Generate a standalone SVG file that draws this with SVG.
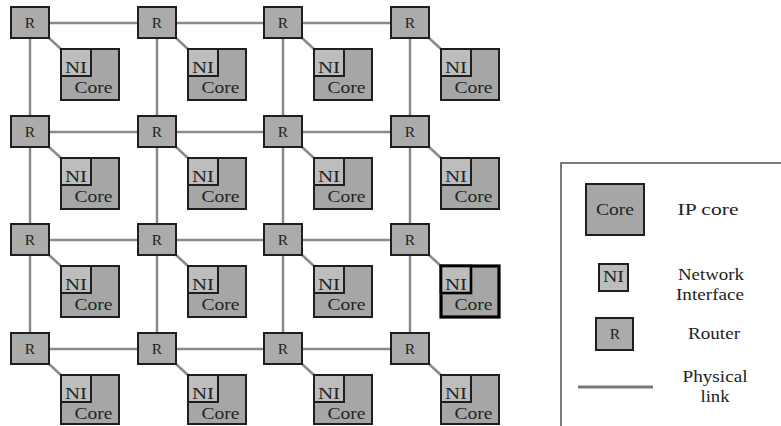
<svg xmlns="http://www.w3.org/2000/svg" width="781" height="426" viewBox="0 0 781 426">
<style>
.bg{fill:#ffffff}
.link{stroke:#8a8a8a;stroke-width:2.5;fill:none}
.r{fill:#ababab;stroke:#1e1e1e;stroke-width:2}
.core{fill:#a6a6a6;stroke:#1e1e1e;stroke-width:2}
.corehl{fill:#a6a6a6;stroke:#000;stroke-width:3.2}
.ni{fill:#bdbdbd;stroke:#1e1e1e;stroke-width:2}
text{font-family:"Liberation Serif","Times New Roman",serif;fill:#222;text-anchor:middle}
.tr{font-size:15.5px}
.tni{font-size:16px}
.tc{font-size:17.5px}
.tl{font-size:17px}
</style>
<rect class="bg" x="0" y="0" width="781" height="426"/>
<g id="connectors">
<line class="link" x1="30" y1="23" x2="410" y2="23"/>
<line class="link" x1="30" y1="132" x2="410" y2="132"/>
<line class="link" x1="30" y1="240" x2="410" y2="240"/>
<line class="link" x1="30" y1="349" x2="410" y2="349"/>
<line class="link" x1="30" y1="23" x2="30" y2="349"/>
<line class="link" x1="157" y1="23" x2="157" y2="349"/>
<line class="link" x1="283" y1="23" x2="283" y2="349"/>
<line class="link" x1="410" y1="23" x2="410" y2="349"/>
<line class="link" x1="49" y1="38" x2="62" y2="50"/><line class="link" x1="176" y1="38" x2="189" y2="50"/><line class="link" x1="302" y1="38" x2="315" y2="50"/><line class="link" x1="429" y1="38" x2="442" y2="50"/>
<line class="link" x1="49" y1="147" x2="62" y2="159"/><line class="link" x1="176" y1="147" x2="189" y2="159"/><line class="link" x1="302" y1="147" x2="315" y2="159"/><line class="link" x1="429" y1="147" x2="442" y2="159"/>
<line class="link" x1="49" y1="255" x2="62" y2="267"/><line class="link" x1="176" y1="255" x2="189" y2="267"/><line class="link" x1="302" y1="255" x2="315" y2="267"/><line class="link" x1="429" y1="255" x2="442" y2="267"/>
<line class="link" x1="49" y1="364" x2="62" y2="376"/><line class="link" x1="176" y1="364" x2="189" y2="376"/><line class="link" x1="302" y1="364" x2="315" y2="376"/><line class="link" x1="429" y1="364" x2="442" y2="376"/>
</g>
<!-- Row 1 -->
<g id="r11"><rect class="r" x="11" y="7" width="38" height="31"/><text class="tr" x="30" y="28">R</text></g>
<g id="r12"><rect class="r" x="138" y="7" width="38" height="31"/><text class="tr" x="157" y="28">R</text></g>
<g id="r13"><rect class="r" x="264" y="7" width="38" height="31"/><text class="tr" x="283" y="28">R</text></g>
<g id="r14"><rect class="r" x="391" y="7" width="38" height="31"/><text class="tr" x="410" y="28">R</text></g>
<g id="c11"><rect class="core" x="61" y="49" width="58" height="51"/><rect class="ni" x="61" y="49" width="30" height="27"/><text class="tni" x="76" y="73" textLength="22" lengthAdjust="spacingAndGlyphs">NI</text><text class="tc" x="93.5" y="93" textLength="38" lengthAdjust="spacingAndGlyphs">Core</text></g>
<g id="c12"><rect class="core" x="188" y="49" width="58" height="51"/><rect class="ni" x="188" y="49" width="30" height="27"/><text class="tni" x="203" y="73" textLength="22" lengthAdjust="spacingAndGlyphs">NI</text><text class="tc" x="220.5" y="93" textLength="38" lengthAdjust="spacingAndGlyphs">Core</text></g>
<g id="c13"><rect class="core" x="314" y="49" width="58" height="51"/><rect class="ni" x="314" y="49" width="30" height="27"/><text class="tni" x="329" y="73" textLength="22" lengthAdjust="spacingAndGlyphs">NI</text><text class="tc" x="346.5" y="93" textLength="38" lengthAdjust="spacingAndGlyphs">Core</text></g>
<g id="c14"><rect class="core" x="441" y="49" width="58" height="51"/><rect class="ni" x="441" y="49" width="30" height="27"/><text class="tni" x="456" y="73" textLength="22" lengthAdjust="spacingAndGlyphs">NI</text><text class="tc" x="473.5" y="93" textLength="38" lengthAdjust="spacingAndGlyphs">Core</text></g>
<!-- Row 2 -->
<g id="r21"><rect class="r" x="11" y="116" width="38" height="31"/><text class="tr" x="30" y="137">R</text></g>
<g id="r22"><rect class="r" x="138" y="116" width="38" height="31"/><text class="tr" x="157" y="137">R</text></g>
<g id="r23"><rect class="r" x="264" y="116" width="38" height="31"/><text class="tr" x="283" y="137">R</text></g>
<g id="r24"><rect class="r" x="391" y="116" width="38" height="31"/><text class="tr" x="410" y="137">R</text></g>
<g id="c21"><rect class="core" x="61" y="158" width="58" height="51"/><rect class="ni" x="61" y="158" width="30" height="27"/><text class="tni" x="76" y="182" textLength="22" lengthAdjust="spacingAndGlyphs">NI</text><text class="tc" x="93.5" y="202" textLength="38" lengthAdjust="spacingAndGlyphs">Core</text></g>
<g id="c22"><rect class="core" x="188" y="158" width="58" height="51"/><rect class="ni" x="188" y="158" width="30" height="27"/><text class="tni" x="203" y="182" textLength="22" lengthAdjust="spacingAndGlyphs">NI</text><text class="tc" x="220.5" y="202" textLength="38" lengthAdjust="spacingAndGlyphs">Core</text></g>
<g id="c23"><rect class="core" x="314" y="158" width="58" height="51"/><rect class="ni" x="314" y="158" width="30" height="27"/><text class="tni" x="329" y="182" textLength="22" lengthAdjust="spacingAndGlyphs">NI</text><text class="tc" x="346.5" y="202" textLength="38" lengthAdjust="spacingAndGlyphs">Core</text></g>
<g id="c24"><rect class="core" x="441" y="158" width="58" height="51"/><rect class="ni" x="441" y="158" width="30" height="27"/><text class="tni" x="456" y="182" textLength="22" lengthAdjust="spacingAndGlyphs">NI</text><text class="tc" x="473.5" y="202" textLength="38" lengthAdjust="spacingAndGlyphs">Core</text></g>
<!-- Row 3 -->
<g id="r31"><rect class="r" x="11" y="224" width="38" height="31"/><text class="tr" x="30" y="245">R</text></g>
<g id="r32"><rect class="r" x="138" y="224" width="38" height="31"/><text class="tr" x="157" y="245">R</text></g>
<g id="r33"><rect class="r" x="264" y="224" width="38" height="31"/><text class="tr" x="283" y="245">R</text></g>
<g id="r34"><rect class="r" x="391" y="224" width="38" height="31"/><text class="tr" x="410" y="245">R</text></g>
<g id="c31"><rect class="core" x="61" y="266" width="58" height="51"/><rect class="ni" x="61" y="266" width="30" height="27"/><text class="tni" x="76" y="290" textLength="22" lengthAdjust="spacingAndGlyphs">NI</text><text class="tc" x="93.5" y="310" textLength="38" lengthAdjust="spacingAndGlyphs">Core</text></g>
<g id="c32"><rect class="core" x="188" y="266" width="58" height="51"/><rect class="ni" x="188" y="266" width="30" height="27"/><text class="tni" x="203" y="290" textLength="22" lengthAdjust="spacingAndGlyphs">NI</text><text class="tc" x="220.5" y="310" textLength="38" lengthAdjust="spacingAndGlyphs">Core</text></g>
<g id="c33"><rect class="core" x="314" y="266" width="58" height="51"/><rect class="ni" x="314" y="266" width="30" height="27"/><text class="tni" x="329" y="290" textLength="22" lengthAdjust="spacingAndGlyphs">NI</text><text class="tc" x="346.5" y="310" textLength="38" lengthAdjust="spacingAndGlyphs">Core</text></g>
<g id="c34"><rect class="corehl" x="441" y="266" width="58" height="51"/><rect class="ni" x="441" y="266" width="30" height="27" style="stroke:#000;stroke-width:2.6"/><text class="tni" x="456" y="290" textLength="22" lengthAdjust="spacingAndGlyphs">NI</text><text class="tc" x="473.5" y="310" textLength="38" lengthAdjust="spacingAndGlyphs">Core</text></g>
<!-- Row 4 -->
<g id="r41"><rect class="r" x="11" y="333" width="38" height="31"/><text class="tr" x="30" y="354">R</text></g>
<g id="r42"><rect class="r" x="138" y="333" width="38" height="31"/><text class="tr" x="157" y="354">R</text></g>
<g id="r43"><rect class="r" x="264" y="333" width="38" height="31"/><text class="tr" x="283" y="354">R</text></g>
<g id="r44"><rect class="r" x="391" y="333" width="38" height="31"/><text class="tr" x="410" y="354">R</text></g>
<g id="c41"><rect class="core" x="61" y="375" width="58" height="49"/><rect class="ni" x="61" y="375" width="30" height="27"/><text class="tni" x="76" y="399" textLength="22" lengthAdjust="spacingAndGlyphs">NI</text><text class="tc" x="93.5" y="419" textLength="38" lengthAdjust="spacingAndGlyphs">Core</text></g>
<g id="c42"><rect class="core" x="188" y="375" width="58" height="49"/><rect class="ni" x="188" y="375" width="30" height="27"/><text class="tni" x="203" y="399" textLength="22" lengthAdjust="spacingAndGlyphs">NI</text><text class="tc" x="220.5" y="419" textLength="38" lengthAdjust="spacingAndGlyphs">Core</text></g>
<g id="c43"><rect class="core" x="314" y="375" width="58" height="49"/><rect class="ni" x="314" y="375" width="30" height="27"/><text class="tni" x="329" y="399" textLength="22" lengthAdjust="spacingAndGlyphs">NI</text><text class="tc" x="346.5" y="419" textLength="38" lengthAdjust="spacingAndGlyphs">Core</text></g>
<g id="c44"><rect class="core" x="441" y="375" width="58" height="49"/><rect class="ni" x="441" y="375" width="30" height="27"/><text class="tni" x="456" y="399" textLength="22" lengthAdjust="spacingAndGlyphs">NI</text><text class="tc" x="473.5" y="419" textLength="38" lengthAdjust="spacingAndGlyphs">Core</text></g>
<!-- Legend -->
<g id="legend">
<rect x="561" y="163" width="240" height="290" fill="#ffffff" stroke="#5a5a5a" stroke-width="1.6"/>
<rect class="core" x="586" y="184" width="58" height="51"/>
<text class="tc" x="615" y="215" textLength="38" lengthAdjust="spacingAndGlyphs">Core</text>
<text class="tl" x="708" y="215" textLength="61" lengthAdjust="spacingAndGlyphs">IP core</text>
<rect class="ni" x="599" y="264" width="29" height="27"/>
<text class="tni" x="613.5" y="282" textLength="21" lengthAdjust="spacingAndGlyphs">NI</text>
<text class="tl" x="711" y="280" textLength="66" lengthAdjust="spacingAndGlyphs">Network</text>
<text class="tl" x="710" y="300" textLength="68" lengthAdjust="spacingAndGlyphs">Interface</text>
<rect class="r" x="596" y="318" width="37" height="32"/>
<text class="tr" x="615" y="339">R</text>
<text class="tl" x="714" y="339" textLength="52" lengthAdjust="spacingAndGlyphs">Router</text>
<line x1="578" y1="387" x2="653" y2="387" stroke="#777" stroke-width="3"/>
<text class="tl" x="715" y="382" textLength="65" lengthAdjust="spacingAndGlyphs">Physical</text>
<text class="tl" x="715" y="402" textLength="29" lengthAdjust="spacingAndGlyphs">link</text>
</g>
</svg>
